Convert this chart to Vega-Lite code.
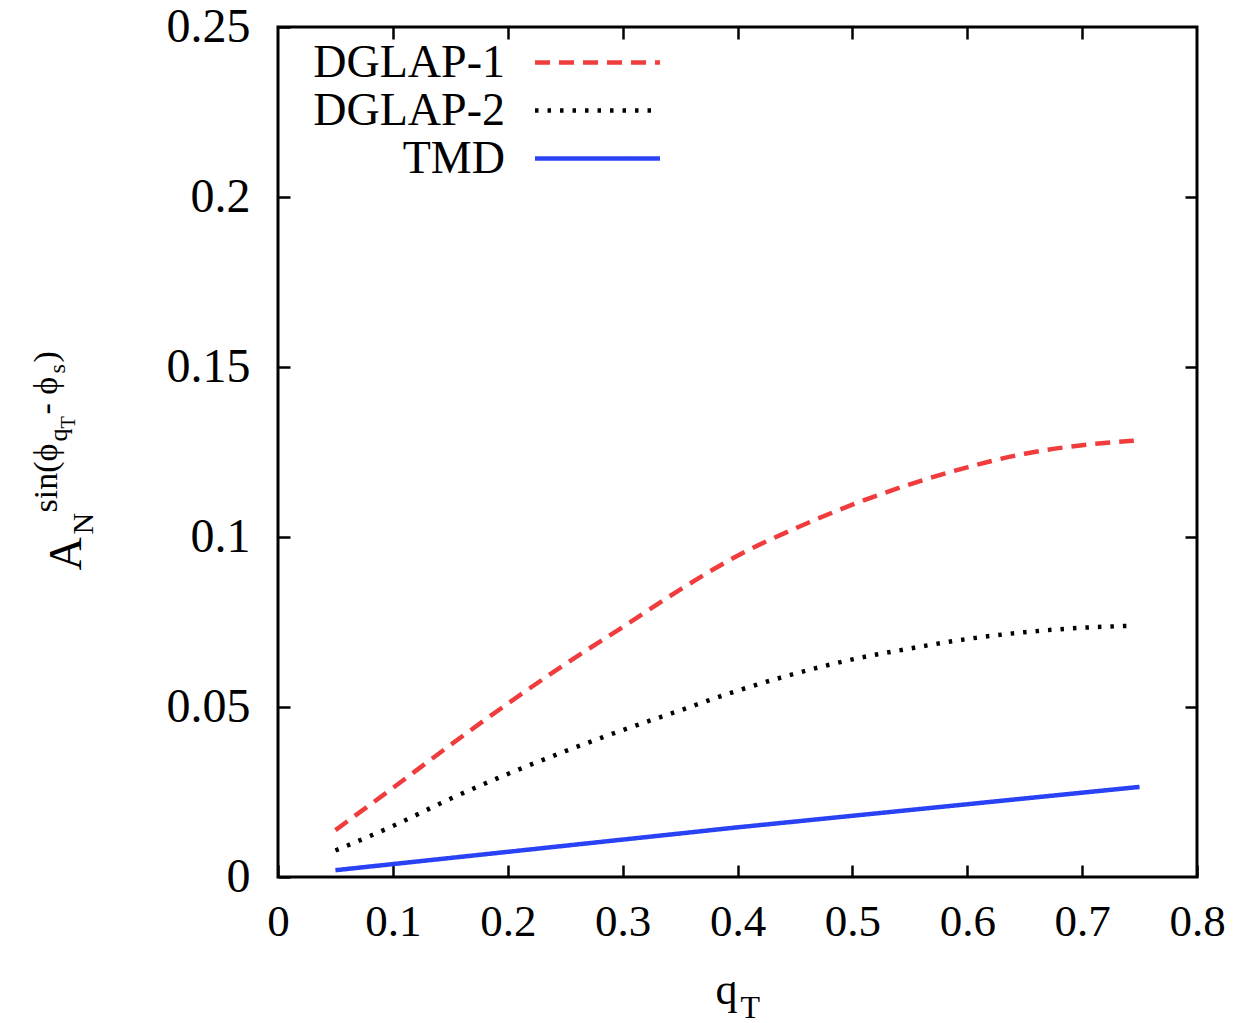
{
  "$schema": "https://vega.github.io/schema/vega-lite/v6.json",
  "width": 919,
  "height": 850,
  "autosize": {"type": "none"},
  "padding": {"left": 278, "top": 27, "right": 60, "bottom": 146},
  "background": "white",
  "config": {
    "font": "Liberation Serif",
    "view": {"stroke": "black", "strokeWidth": 3},
    "axis": {
      "grid": false,
      "domain": false,
      "tickColor": "black",
      "tickWidth": 2.5,
      "tickSize": -12,
      "labelColor": "black",
      "labelFont": "Liberation Serif",
      "titleFont": "Liberation Serif",
      "titleFontWeight": "normal",
      "titleColor": "black"
    }
  },
  "data": {
    "values": [
      {"series": "DGLAP-1", "qT": 0.05, "A": 0.0138},
      {"series": "DGLAP-1", "qT": 0.10, "A": 0.0262},
      {"series": "DGLAP-1", "qT": 0.15, "A": 0.0388},
      {"series": "DGLAP-1", "qT": 0.20, "A": 0.0510},
      {"series": "DGLAP-1", "qT": 0.25, "A": 0.0626},
      {"series": "DGLAP-1", "qT": 0.30, "A": 0.0735},
      {"series": "DGLAP-1", "qT": 0.35, "A": 0.0845},
      {"series": "DGLAP-1", "qT": 0.40, "A": 0.0945},
      {"series": "DGLAP-1", "qT": 0.45, "A": 0.1025},
      {"series": "DGLAP-1", "qT": 0.50, "A": 0.1095},
      {"series": "DGLAP-1", "qT": 0.55, "A": 0.1155},
      {"series": "DGLAP-1", "qT": 0.60, "A": 0.1205},
      {"series": "DGLAP-1", "qT": 0.65, "A": 0.1245},
      {"series": "DGLAP-1", "qT": 0.70, "A": 0.1270},
      {"series": "DGLAP-1", "qT": 0.745, "A": 0.1283},
      {"series": "DGLAP-2", "qT": 0.05, "A": 0.0078},
      {"series": "DGLAP-2", "qT": 0.10, "A": 0.0150},
      {"series": "DGLAP-2", "qT": 0.15, "A": 0.0230},
      {"series": "DGLAP-2", "qT": 0.20, "A": 0.0303},
      {"series": "DGLAP-2", "qT": 0.25, "A": 0.0370},
      {"series": "DGLAP-2", "qT": 0.30, "A": 0.0432},
      {"series": "DGLAP-2", "qT": 0.35, "A": 0.0490},
      {"series": "DGLAP-2", "qT": 0.40, "A": 0.0548},
      {"series": "DGLAP-2", "qT": 0.45, "A": 0.0598},
      {"series": "DGLAP-2", "qT": 0.50, "A": 0.0640},
      {"series": "DGLAP-2", "qT": 0.55, "A": 0.0672},
      {"series": "DGLAP-2", "qT": 0.60, "A": 0.0700},
      {"series": "DGLAP-2", "qT": 0.65, "A": 0.0720},
      {"series": "DGLAP-2", "qT": 0.70, "A": 0.0733},
      {"series": "DGLAP-2", "qT": 0.745, "A": 0.0739},
      {"series": "TMD", "qT": 0.05, "A": 0.0020},
      {"series": "TMD", "qT": 0.10, "A": 0.0038},
      {"series": "TMD", "qT": 0.15, "A": 0.0056},
      {"series": "TMD", "qT": 0.20, "A": 0.0074},
      {"series": "TMD", "qT": 0.25, "A": 0.0092},
      {"series": "TMD", "qT": 0.30, "A": 0.0110},
      {"series": "TMD", "qT": 0.35, "A": 0.0128},
      {"series": "TMD", "qT": 0.40, "A": 0.0146},
      {"series": "TMD", "qT": 0.45, "A": 0.0163},
      {"series": "TMD", "qT": 0.50, "A": 0.0180},
      {"series": "TMD", "qT": 0.55, "A": 0.0197},
      {"series": "TMD", "qT": 0.60, "A": 0.0214},
      {"series": "TMD", "qT": 0.65, "A": 0.0231},
      {"series": "TMD", "qT": 0.70, "A": 0.0248},
      {"series": "TMD", "qT": 0.75, "A": 0.0265}
    ]
  },
  "resolve": {"axis": {"x": "independent", "y": "independent"}},
  "layer": [
    {
      "mark": {"type": "line", "strokeWidth": 4.5, "strokeCap": "butt", "interpolate": "monotone"},
      "encoding": {
        "x": {"field": "qT", "type": "quantitative", "scale": {"domain": [0, 0.8], "nice": false, "zero": false},
          "axis": {"orient": "bottom", "values": [0, 0.1, 0.2, 0.3, 0.4, 0.5, 0.6, 0.7, 0.8], "format": "~g", "labelFontSize": 45, "labelPadding": 34, "labelFlush": false,
            "title": "q", "titleFontSize": 44, "titleX": 437, "titleY": 126, "titleAlign": "left", "titleBaseline": "alphabetic", "titleAngle": 0}},
        "y": {"field": "A", "type": "quantitative", "scale": {"domain": [0, 0.25], "nice": false, "zero": false},
          "axis": {"orient": "left", "values": [0, 0.05, 0.1, 0.15, 0.2, 0.25], "format": "~g", "labelFontSize": 48, "labelPadding": 40, "labelFlush": false,
            "title": "A", "titleFontSize": 46, "titleAngle": -90, "titleX": -198, "titleY": 543, "titleAlign": "left", "titleBaseline": "alphabetic"}},
        "color": {"field": "series", "type": "nominal",
          "scale": {"domain": ["DGLAP-1", "DGLAP-2", "TMD"], "range": ["#f03c3c", "#000000", "#2a42f5"]},
          "legend": {"title": null, "orient": "none", "legendX": 295, "legendY": 11, "padding": 0,
            "symbolType": "M -2.84 0 L 2.84 0", "symbolSize": 1936, "symbolStrokeWidth": 4.5,
            "labelFontSize": 46, "labelAlign": "right", "labelOffset": -117, "labelColor": "black", "labelFont": "Liberation Serif", "labelLimit": 0,
            "rowPadding": 0}},
        "strokeDash": {"field": "series", "type": "nominal",
          "scale": {"domain": ["DGLAP-1", "DGLAP-2", "TMD"], "range": [[15, 9], [3.5, 9], [1, 0]]},
          "legend": {"title": null, "orient": "none", "legendX": 295, "legendY": 11, "padding": 0,
            "symbolType": "M -2.84 0 L 2.84 0", "symbolSize": 1936, "symbolStrokeWidth": 4.5,
            "labelFontSize": 46, "labelAlign": "right", "labelOffset": -117, "labelColor": "black", "labelFont": "Liberation Serif", "labelLimit": 0,
            "rowPadding": 0}}
      }
    },
    {
      "mark": {"type": "point", "opacity": 0},
      "encoding": {
        "x": {"field": "qT", "type": "quantitative",
          "axis": {"orient": "top", "values": [0.1, 0.2, 0.3, 0.4, 0.5, 0.6, 0.7], "labels": false,
            "title": "T", "titleFontSize": 32, "titleX": 462, "titleY": 990, "titleAlign": "left", "titleBaseline": "alphabetic", "titleAngle": 0}},
        "y": {"field": "A", "type": "quantitative",
          "axis": {"orient": "right", "values": [0.05, 0.1, 0.15, 0.2], "labels": false, "title": null}}
      }
    },
    {
      "mark": {"type": "point", "opacity": 0},
      "encoding": {
        "x": {"field": "qT", "type": "quantitative", "axis": null},
        "y": {"field": "A", "type": "quantitative",
          "axis": {"orient": "left", "ticks": false, "labels": false,
            "title": "N", "titleFontSize": 30, "titleAngle": -90, "titleX": -186, "titleY": 507, "titleAlign": "left", "titleBaseline": "alphabetic"}}
      }
    },
    {
      "mark": {"type": "point", "opacity": 0},
      "encoding": {
        "x": {"field": "qT", "type": "quantitative", "axis": null},
        "y": {"field": "A", "type": "quantitative",
          "axis": {"orient": "left", "ticks": false, "labels": false,
            "title": "sin(ϕ", "titleFontSize": 34, "titleAngle": -90, "titleX": -222, "titleY": 485, "titleAlign": "left", "titleBaseline": "alphabetic"}}
      }
    },
    {
      "mark": {"type": "point", "opacity": 0},
      "encoding": {
        "x": {"field": "qT", "type": "quantitative", "axis": null},
        "y": {"field": "A", "type": "quantitative",
          "axis": {"orient": "left", "ticks": false, "labels": false,
            "title": "q", "titleFontSize": 26, "titleAngle": -90, "titleX": -212, "titleY": 414, "titleAlign": "left", "titleBaseline": "alphabetic"}}
      }
    },
    {
      "mark": {"type": "point", "opacity": 0},
      "encoding": {
        "x": {"field": "qT", "type": "quantitative", "axis": null},
        "y": {"field": "A", "type": "quantitative",
          "axis": {"orient": "left", "ticks": false, "labels": false,
            "title": "T", "titleFontSize": 20, "titleAngle": -90, "titleX": -204, "titleY": 401, "titleAlign": "left", "titleBaseline": "alphabetic"}}
      }
    },
    {
      "mark": {"type": "point", "opacity": 0},
      "encoding": {
        "x": {"field": "qT", "type": "quantitative", "axis": null},
        "y": {"field": "A", "type": "quantitative",
          "axis": {"orient": "left", "ticks": false, "labels": false,
            "title": "- ϕ", "titleFontSize": 34, "titleAngle": -90, "titleX": -222, "titleY": 387, "titleAlign": "left", "titleBaseline": "alphabetic"}}
      }
    },
    {
      "mark": {"type": "point", "opacity": 0},
      "encoding": {
        "x": {"field": "qT", "type": "quantitative", "axis": null},
        "y": {"field": "A", "type": "quantitative",
          "axis": {"orient": "left", "ticks": false, "labels": false,
            "title": "s", "titleFontSize": 24, "titleAngle": -90, "titleX": -214, "titleY": 346, "titleAlign": "left", "titleBaseline": "alphabetic"}}
      }
    },
    {
      "mark": {"type": "point", "opacity": 0},
      "encoding": {
        "x": {"field": "qT", "type": "quantitative", "axis": null},
        "y": {"field": "A", "type": "quantitative",
          "axis": {"orient": "left", "ticks": false, "labels": false,
            "title": ")", "titleFontSize": 34, "titleAngle": -90, "titleX": -222, "titleY": 335, "titleAlign": "left", "titleBaseline": "alphabetic"}}
      }
    }
  ]
}
